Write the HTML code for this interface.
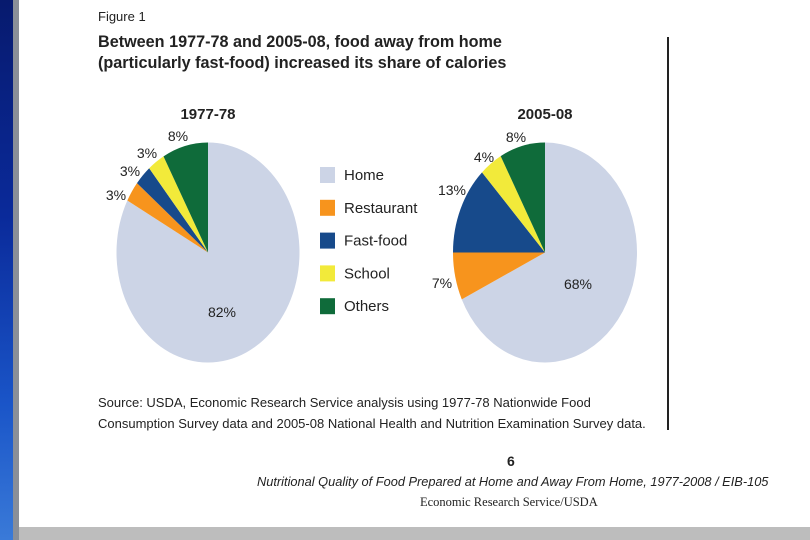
<!DOCTYPE html>
<html><head><meta charset="utf-8"><style>
body{margin:0;width:810px;height:540px;overflow:hidden;background:#fff;position:relative;font-family:"Liberation Sans",sans-serif;color:#222}
.t{position:absolute;white-space:nowrap}
</style></head><body>
<div style="position:absolute;left:0;top:0;width:13px;height:540px;background:linear-gradient(180deg,#071a6e 0%,#0a2a9a 40%,#1a55c8 75%,#3a7ad8 100%)"></div>
<div style="position:absolute;left:13px;top:0;width:6px;height:540px;background:#8a8f98"></div>
<div style="position:absolute;left:19px;top:527px;width:791px;height:13px;background:#bdbdbd"></div>
<div style="position:absolute;left:667px;top:37px;width:2px;height:393px;background:#222"></div>
<div class="t" style="left:98px;top:9px;font-size:13px">Figure 1</div>
<div class="t" style="left:98px;top:32px;font-size:16.2px;font-weight:bold;line-height:21px">Between 1977-78 and 2005-08, food away from home<br>(particularly fast-food) increased its share of calories</div>
<svg id="chart" width="810" height="540" style="position:absolute;left:0;top:0"></svg>
<div class="t" style="left:98px;top:392px;font-size:13px;line-height:21px">Source: USDA, Economic Research Service analysis using 1977-78 Nationwide Food<br>Consumption Survey data and 2005-08 National Health and Nutrition Examination Survey data.</div>
<div class="t" style="left:507px;top:453px;font-size:14px;font-weight:bold">6</div>
<div class="t" style="left:257px;top:474px;font-size:12.8px;font-style:italic">Nutritional Quality of Food Prepared at Home and Away From Home, 1977-2008 / EIB-105</div>
<div class="t" style="left:420px;top:495px;font-size:12.5px;font-family:'Liberation Serif',serif">Economic Research Service/USDA</div>
<script>
const categories=["Home","Restaurant","Fast-food","School","Others"];
const colors=["#ccd4e6","#f7941d","#174a8b","#f2ea3a","#0f6b3a"];
const years=["1977-78","2005-08"];
const values1977=[82,3,3,3,8];
const values2005=[68,7,13,4,8];
const NS="http://www.w3.org/2000/svg";
const svg=document.getElementById("chart");
function mk(tag,attrs){const e=document.createElementNS(NS,tag);for(const k in attrs)e.setAttribute(k,attrs[k]);svg.appendChild(e);return e;}
function pt(cx,cy,rx,ry,frac){const a=frac*2*Math.PI;return [cx+rx*Math.sin(a),cy-ry*Math.cos(a)];}
function drawPie(vals,cx,cy,rx,ry,labelPos,name){
  const tot=vals.reduce((a,b)=>a+b,0);let acc=0;
  vals.forEach((v,i)=>{
    const f0=acc/tot,f1=(acc+v)/tot;acc+=v;
    const p0=pt(cx,cy,rx,ry,f0),p1=pt(cx,cy,rx,ry,f1);
    const large=(f1-f0)>0.5?1:0;
    const p=mk("path",{d:`M${cx},${cy}L${p0[0]},${p0[1]}A${rx},${ry} 0 ${large} 1 ${p1[0]},${p1[1]}Z`,fill:colors[i]});
    
    
    const t=mk("text",{x:labelPos[i][0],y:labelPos[i][1],"font-size":"14","text-anchor":"middle",fill:"#222","font-family":"Liberation Sans, sans-serif"});
    t.textContent=v+"%";
    
    
  });
}
drawPie(values1977,208,252.5,91.5,110,[[222,317],[116,200],[130,176],[147,158],[178,141]],"pie-1977");
drawPie(values2005,545,252.5,92,110,[[578,289],[442,288],[452,195],[484,162],[516,142]],"pie-2005");
[[208,years[0]],[545,years[1]]].forEach(([x,s],i)=>{
  const t=mk("text",{x:x,y:119,"font-size":"15","font-weight":"bold","text-anchor":"middle",fill:"#222","font-family":"Liberation Sans, sans-serif"});
  t.textContent=s;
  
  
});
categories.forEach((c,i)=>{
  const y=175+i*32.8;
  const r=mk("rect",{x:320,y:y-8,width:15,height:16,fill:colors[i]});
  
  
  const t=mk("text",{x:344,y:y+5,"font-size":"15",fill:"#222","font-family":"Liberation Sans, sans-serif"});
  t.textContent=c;
  
  
});
</script>
</body></html>
